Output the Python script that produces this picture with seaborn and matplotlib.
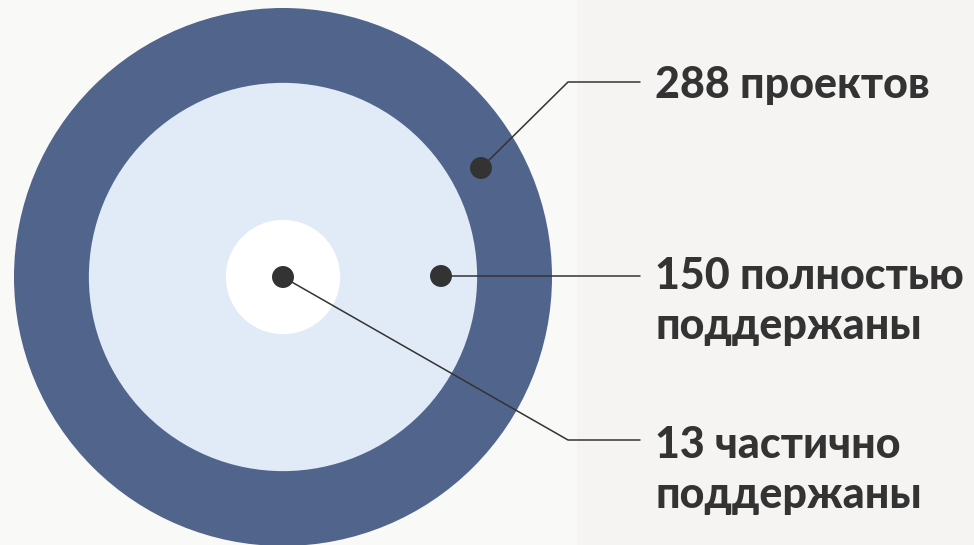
import numpy as np
import pandas as pd
import matplotlib
matplotlib.use("Agg")
import matplotlib.pyplot as plt
import seaborn as sns
from matplotlib.patches import Circle, Rectangle

# данные
counts = [288, 150, 13]
labels = ["288 проектов", "150 полностью\nподдержаны", "13 частично\nподдержаны"]
ring_colors = ["#50648c", "#e1ebf7", "#ffffff"]

sns.set_theme(style="white")
plt.rcParams["font.family"] = ["Lato", "DejaVu Sans"]

W, H = 974, 545
fig = plt.figure(figsize=(W / 100, H / 100), dpi=100, facecolor="#f5f4f3")
ax = fig.add_axes([0, 0, 1, 1])
ax.set_xlim(0, W)
ax.set_ylim(H, 0)
ax.set_aspect("equal")
ax.axis("off")

ax.add_patch(Rectangle((0, 0), 576, H, color="#f9f9f8", zorder=0))

# круги: площадь пропорциональна количеству
cx, cy = 283, 277
k = 269 / np.sqrt(max(counts))
for n, c in zip(counts, ring_colors):
    ax.add_patch(Circle((cx, cy), k * np.sqrt(n), color=c, zorder=1, lw=0))

# точки-маркеры и выноски
dots = pd.DataFrame({"x": [481, 441, 283], "y": [168, 276, 277]})
elbows = [(568, 82), (441, 276), (568, 440)]
text_y = [85, 301, 470]

for i, lab in enumerate(labels):
    x0, y0 = dots.x[i], dots.y[i]
    ex, ey = elbows[i]
    ax.plot([x0, ex, 640], [y0, ey, ey], color="#333333", lw=1.1, zorder=2)
    ax.text(655, text_y[i], lab, ha="left", va="center", fontsize=31,
            fontweight="black", color="#333333", linespacing=1.32, zorder=3)

sns.scatterplot(data=dots, x="x", y="y", ax=ax, s=250, color="#333333",
                edgecolor="none", zorder=4, legend=False)
ax.set_xlim(0, W)
ax.set_ylim(H, 0)
ax.axis("off")

fig.savefig("out.png", dpi=100, facecolor=fig.get_facecolor())
